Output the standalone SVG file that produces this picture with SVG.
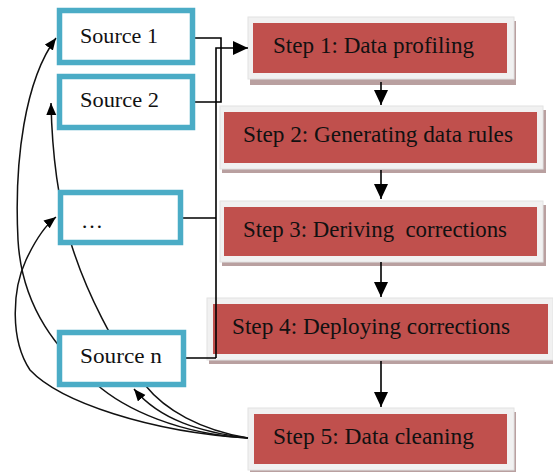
<svg xmlns="http://www.w3.org/2000/svg" width="553" height="472" viewBox="0 0 553 472">
<defs>
<marker id="ah" markerUnits="userSpaceOnUse" markerWidth="16" markerHeight="16" refX="15" refY="7" orient="auto"><path d="M0,0 L15,7 L0,14 z" fill="#000"/></marker>
<marker id="ahs" markerUnits="userSpaceOnUse" markerWidth="14" markerHeight="12" refX="12" refY="5" orient="auto"><path d="M0,0 L12,5 L0,10 z" fill="#000"/></marker>
<style>
.src rect{fill:#fff;stroke:#4bacc6;stroke-width:5.5}
.src text,.step text{font-family:"Liberation Serif","Times New Roman",serif;font-size:22px;fill:#111}
.step text{font-size:23px}
.sh{fill:#b9a0a0}
.bg{fill:#f1f1f1;stroke:#e2e2e2;stroke-width:1}
.red{fill:#c0504d}
.ln{fill:none;stroke:#000;stroke-width:1.6}
.cv{fill:none;stroke:#111;stroke-width:1.5}
</style>
</defs>
<rect width="553" height="472" fill="#fff"/>
<g id="step1" class="step"><rect class="sh" x="250" y="21" width="266" height="64"/><rect class="bg" x="248" y="17" width="266" height="62"/><rect class="red" x="253" y="23" width="254" height="50"/><text x="273" y="53" textLength="201" lengthAdjust="spacingAndGlyphs">Step 1: Data profiling</text></g>
<g id="step2" class="step"><rect class="sh" x="222" y="110" width="324" height="63"/><rect class="bg" x="220" y="106" width="323" height="63"/><rect class="red" x="224" y="112" width="313" height="51"/><text x="243" y="142" textLength="270" lengthAdjust="spacingAndGlyphs">Step 2: Generating data rules</text></g>
<g id="step3" class="step"><rect class="sh" x="222" y="205" width="324" height="61"/><rect class="bg" x="220" y="201" width="323" height="61"/><rect class="red" x="224" y="207" width="313" height="49"/><text x="243" y="237" textLength="264" lengthAdjust="spacingAndGlyphs" xml:space="preserve">Step 3: Deriving  corrections</text></g>
<g id="step4" class="step"><rect class="sh" x="209" y="302" width="346" height="62"/><rect class="bg" x="207" y="298" width="346" height="62"/><rect class="red" x="213" y="304" width="335" height="50"/><text x="232" y="334" textLength="278" lengthAdjust="spacingAndGlyphs">Step 4: Deploying corrections</text></g>
<g id="step5" class="step"><rect class="sh" x="250" y="412" width="266" height="64"/><rect class="bg" x="248" y="408" width="266" height="62"/><rect class="red" x="254" y="414" width="253" height="50"/><text x="273" y="444" textLength="201" lengthAdjust="spacingAndGlyphs">Step 5: Data cleaning</text></g>
<g id="connectors">
<path class="cv" d="M248,438 C180,434 125,410 95,383 C60,352 22,310 18,240 C14,160 25,80 56,38" marker-end="url(#ahs)"/>
<path class="cv" d="M248,438 C150,432 60,402 30,370 C10,340 12,290 26,260 C33,245 42,228 56,217" marker-end="url(#ahs)"/>
<path class="cv" d="M248,438 C200,430 165,410 145,385 C115,350 85,290 70,240 C58,200 52,150 51,103" marker-end="url(#ahs)"/>
<path class="cv" d="M248,438 C200,432 160,420 134,389" marker-end="url(#ahs)"/>
<path class="ln" d="M195,38 H221 V102 H195"/>
<path class="ln" d="M183,218 H216 M186,358 H216 M216,358 V48 H248" marker-end="url(#ah)"/>
<path class="ln" d="M381,82 V105" marker-end="url(#ah)"/>
<path class="ln" d="M381,170 V199" marker-end="url(#ah)"/>
<path class="ln" d="M381,262 V297" marker-end="url(#ah)"/>
<path class="ln" d="M381,361 V407" marker-end="url(#ah)"/>
</g>
<g id="source1" class="src"><rect x="59.5" y="10.5" width="133" height="52"/><text x="80" y="43" textLength="78" lengthAdjust="spacingAndGlyphs">Source 1</text></g>
<g id="source2" class="src"><rect x="59.5" y="76.5" width="133" height="51"/><text x="80" y="107" textLength="79" lengthAdjust="spacingAndGlyphs">Source 2</text></g>
<g id="sourceDots" class="src"><rect x="60.5" y="192.5" width="120" height="50"/><text x="81" y="228">…</text></g>
<g id="sourceN" class="src"><rect x="59.5" y="332.5" width="124" height="52"/><text x="80" y="363" textLength="82" lengthAdjust="spacingAndGlyphs">Source n</text></g>
</svg>
